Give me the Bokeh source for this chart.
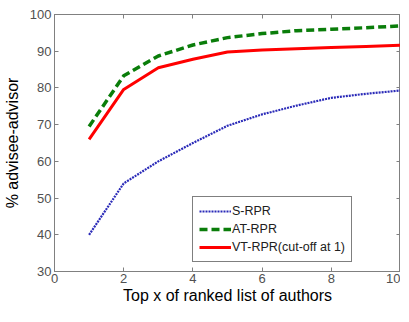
from bokeh.plotting import figure
from bokeh.models import Legend, LegendItem, LinearAxis, FixedTicker, Range1d, CustomLabelingPolicy
from bokeh.embed import file_html
from bokeh.resources import INLINE

x = [1, 2, 3, 4, 5, 6, 7, 8, 9, 10]
s_rpr = [40.0, 54.0, 60.0, 65.0, 69.7, 72.8, 75.2, 77.3, 78.4, 79.3]
at_rpr = [69.5, 83.3, 88.7, 91.7, 93.7, 94.8, 95.6, 96.0, 96.4, 96.9]
vt_rpr = [66.0, 79.6, 85.5, 87.8, 89.8, 90.3, 90.7, 91.0, 91.3, 91.6]
names = ["S-RPR", "AT-RPR", "VT-RPR(cut-off at 1)"]
xticks = [0, 2, 4, 6, 8, 10]
yticks = [30, 40, 50, 60, 70, 80, 90, 100]

FONT = "Liberation Sans"
AX = "#808080"
TXT = "#505050"

p = figure(width=400, height=306, output_backend="svg", toolbar_location=None,
           x_range=Range1d(0, 10), y_range=Range1d(30, 100),
           min_border_left=0, min_border_right=0, min_border_top=14, min_border_bottom=0)
p.grid.visible = False
p.outline_line_color = AX
p.background_fill_color = "white"
p.border_fill_color = "white"

for ax, ticks in ((p.xaxis[0], xticks), (p.yaxis[0], yticks)):
    ax.ticker = FixedTicker(ticks=ticks)
    ax.major_tick_in = 4
    ax.major_tick_out = 0
    ax.minor_tick_line_color = None
    ax.axis_line_color = AX
    ax.major_tick_line_color = AX
    ax.major_label_text_color = TXT
    ax.major_label_text_font = FONT
    ax.major_label_text_font_size = "13px"
    ax.axis_label_text_font = FONT
    ax.axis_label_text_font_size = "16px"
    ax.axis_label_text_font_style = "normal"
    ax.axis_label_text_color = "black"

p.xaxis[0].axis_label = "Top x of ranked list of authors"
p.yaxis[0].axis_label = "% advisee-advisor"
p.xaxis[0].major_label_standoff = 2
p.xaxis[0].axis_label_standoff = 1
p.yaxis[0].major_label_standoff = 3
p.yaxis[0].axis_label_standoff = 6

top = LinearAxis(ticker=FixedTicker(ticks=xticks), major_tick_in=4, major_tick_out=0,
                 major_label_policy=CustomLabelingPolicy(code="return new Set()"),
                 major_label_text_font_size="0px", major_label_standoff=0,
                 axis_line_color=AX, major_tick_line_color=AX, minor_tick_line_color=None)
right = LinearAxis(ticker=FixedTicker(ticks=yticks), major_tick_in=4, major_tick_out=0,
                   major_label_policy=CustomLabelingPolicy(code="return new Set()"),
                   major_label_text_font_size="0px", major_label_standoff=0,
                   axis_line_color=AX, major_tick_line_color=AX, minor_tick_line_color=None)
p.add_layout(top, "above")
p.add_layout(right, "right")

r1 = p.line(x, s_rpr, line_color="#2a2ab8", line_width=2.2, line_dash="2 1")
r2 = p.line(x, at_rpr, line_color="#0a7d0a", line_width=3.5, line_dash="8 4")
r3 = p.line(x, vt_rpr, line_color="#ff0000", line_width=3)

legend = Legend(items=[LegendItem(label=names[0], renderers=[r1]),
                       LegendItem(label=names[1], renderers=[r2]),
                       LegendItem(label=names[2], renderers=[r3])],
                location=(138, 9), border_line_color="black", border_line_width=1,
                background_fill_color="white", background_fill_alpha=1,
                label_text_font=FONT, label_text_font_size="12.5px", label_text_color="#202020",
                glyph_width=32, glyph_height=16, label_height=16, spacing=2,
                padding=6, margin=0, label_standoff=1)
p.add_layout(legend, "center")

open("out.html", "w").write(file_html(p, INLINE))
